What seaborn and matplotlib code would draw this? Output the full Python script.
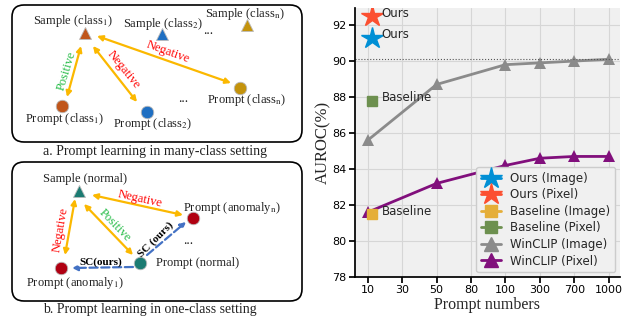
import matplotlib
matplotlib.use("Agg")
import matplotlib.pyplot as plt
import matplotlib.transforms as mtransforms
from matplotlib.lines import Line2D
from matplotlib.patches import FancyBboxPatch
import pandas as pd
import seaborn as sns

# --- data ---
prompt_ticks = [10, 30, 50, 80, 100, 300, 700, 1000]
winclip_prompts = [10, 50, 100, 300, 700, 1000]
winclip_image = [85.6, 88.7, 89.8, 89.9, 90.0, 90.1]
winclip_pixel = [81.6, 83.2, 84.2, 84.6, 84.7, 84.7]
ours_prompts = 10
ours_image = 91.3
ours_pixel = 92.5
baseline_prompts = 10
baseline_image = 81.5
baseline_pixel = 87.8

BLUE = "#008fd5"
RED = "#fc4f30"
YELLOW = "#e5ae38"
GREEN = "#6d904f"
GRAY = "#8b8b8b"
PURPLE = "#810f7c"
ORANGE = "#fbb800"
SERIF = "Liberation Serif"

sns.set_theme(style="ticks", rc={
    "axes.facecolor": "#f0f0f0",
    "axes.edgecolor": "black",
    "axes.grid": True,
    "grid.color": "#d6d6d6",
    "grid.linewidth": 0.8,
    "xtick.major.size": 4,
    "ytick.major.size": 4,
    "xtick.color": "black",
    "ytick.color": "black",
})
plt.rcParams["font.family"] = ["DejaVu Sans"]
plt.rcParams["mathtext.fontset"] = "stix"

fig = plt.figure(figsize=(6.32, 3.2), dpi=100)


# --- left: diagram, drawn in pixel coordinates ---
ad = fig.add_axes([0, 0, 320 / 632, 1])
ad.set_xlim(0, 320)
ad.set_ylim(320, 0)
ad.axis("off")


def label(x, y, s, size=9, color="#222222", rot=0, weight="normal"):
    ad.text(x, y, s, ha="center", va="center", fontsize=size, family=SERIF,
            color=color, rotation=rot, fontweight=weight, rotation_mode="anchor")


def arrow(p, q, style="<|-|>", color=ORANGE, ls="-"):
    ad.annotate("", xy=q, xytext=p,
                arrowprops=dict(arrowstyle=style, color=color, lw=1.6, ls=ls,
                                mutation_scale=8, shrinkA=0, shrinkB=0))


def node(x, y, marker, color):
    ad.plot([x], [y], marker=marker, ms=9, color=color, mec="#bbbbbb", mew=0.6)


for top, bottom in [(5, 142), (162, 301)]:
    ad.add_patch(FancyBboxPatch((12, top), 290, bottom - top,
                                boxstyle="round,pad=0,rounding_size=12",
                                fc="none", ec="black", lw=1.2))

# a. many-class
node(85, 33, "^", "#c0561b")
node(162, 34, "^", "#1f6fc2")
node(247, 25, "^", "#c4930c")
node(62, 106, "o", "#c0561b")
node(147, 112, "o", "#1f6fc2")
node(240, 88, "o", "#c4930c")
label(73, 21, "Sample (class$_1$)")
label(163, 24, "Sample (class$_2$)")
label(245, 14, r"Sample (class$_\mathrm{n}$)")
label(65, 119, "Prompt (class$_1$)")
label(153, 124, "Prompt (class$_2$)")
label(247, 100, r"Prompt (class$_\mathrm{n}$)")
label(208, 31, "...", size=10)
label(183, 99, "...", size=10)
arrow((67, 97), (81, 46))
arrow((93, 46), (137, 102))
arrow((97, 36), (231, 83))
label(67, 71, "Positive", color="#22bb44", rot=73)
label(124, 70, "Negative", color="red", rot=-51)
label(168, 52, "Negative", color="red", rot=-20)
label(155, 151, "a. Prompt learning in many-class setting", size=10)

# b. one-class
node(79, 191, "^", "#1b7b72")
node(193, 218, "o", "#b00012")
node(140, 263, "o", "#1b7b72")
node(61, 268, "o", "#b00012")
label(85, 179, "Sample (normal)")
label(232, 208, r"Prompt (anomaly$_\mathrm{n}$)")
label(198, 263, "Prompt (normal)")
label(75, 283, "Prompt (anomaly$_1$)")
label(188, 241, "...", size=10)
arrow((65, 255), (75, 199))
arrow((133, 255), (84, 204))
arrow((92, 195), (183, 215))
arrow((133, 267), (72, 268), style="-|>", color="#4472c4", ls="--")
arrow((147, 255), (186, 222), style="-|>", color="#4472c4", ls="--")
label(61, 230, "Negative", color="red", rot=80)
label(115, 225, "Positive", color="#22bb44", rot=-46)
label(140, 199, "Negative", color="red", rot=-12.5)
label(101, 262, "SC(ours)", size=8, color="black", weight="bold")
label(156, 240, "SC (ours)", size=8, color="black", rot=45, weight="bold")
label(150, 310, "b. Prompt learning in one-class setting", size=10)


# --- right: AUROC vs prompt numbers ---
ax = fig.add_axes([355 / 632, 43 / 320, 265 / 632, 269 / 320])

df = pd.DataFrame({
    "pos": [prompt_ticks.index(p) for p in winclip_prompts] * 2,
    "auroc": winclip_image + winclip_pixel,
    "series": ["WinCLIP (Image)"] * len(winclip_image) + ["WinCLIP (Pixel)"] * len(winclip_pixel),
})
sns.lineplot(data=df, x="pos", y="auroc", hue="series", palette=[GRAY, PURPLE],
             marker="^", markersize=8, markeredgewidth=0, linewidth=2,
             legend=False, ax=ax)

ax.axhline(max(winclip_image), color="#555555", ls=":", lw=0.8)

shift = mtransforms.offset_copy(ax.transData, fig=fig, x=4, y=0, units="dots")
tshift = mtransforms.offset_copy(ax.transData, fig=fig, x=14, y=3, units="dots")
ours_x = prompt_ticks.index(ours_prompts)
base_x = prompt_ticks.index(baseline_prompts)
ax.plot([ours_x], [ours_image], marker="*", ms=16, color=BLUE, ls="none", transform=shift)
ax.plot([ours_x], [ours_pixel], marker="*", ms=16, color=RED, ls="none", transform=shift)
ax.plot([base_x], [baseline_image], marker="s", ms=7, color=YELLOW, ls="none", transform=shift)
ax.plot([base_x], [baseline_pixel], marker="s", ms=7, color=GREEN, ls="none", transform=shift)
for xv, yv, s in [(ours_x, ours_image, "Ours"), (ours_x, ours_pixel, "Ours"),
                  (base_x, baseline_image, "Baseline"), (base_x, baseline_pixel, "Baseline")]:
    ax.text(xv, yv, s, transform=tshift, fontsize=8.5, va="center", ha="left")

ax.set_xticks(range(len(prompt_ticks)))
ax.set_xticklabels([str(p) for p in prompt_ticks])
ax.set_yticks([78, 80, 82, 84, 86, 88, 90, 92])
ax.set_xlim(-0.37, 7.33)
ax.set_ylim(78, 92.95)
ax.tick_params(labelsize=8, pad=2)
ax.set_xlabel("Prompt numbers", family=SERIF, fontsize=11.5, labelpad=1)
ax.set_ylabel("AUROC(%)", family=SERIF, fontsize=12, labelpad=1)
sns.despine(ax=ax)

handles = [
    Line2D([], [], color=BLUE, marker="*", ms=16, lw=2, label="Ours (Image)"),
    Line2D([], [], color=RED, marker="*", ms=16, lw=2, label="Ours (Pixel)"),
    Line2D([], [], color=YELLOW, marker="s", ms=9, lw=2, label="Baseline (Image)"),
    Line2D([], [], color=GREEN, marker="s", ms=9, lw=2, label="Baseline (Pixel)"),
    Line2D([], [], color=GRAY, marker="^", ms=10, lw=2, label="WinCLIP (Image)"),
    Line2D([], [], color=PURPLE, marker="^", ms=10, lw=2, label="WinCLIP (Pixel)"),
]
ax.legend(handles=handles, loc="lower right", fontsize=8.5, handlelength=1.7,
          labelspacing=0.3, facecolor="#f0f0f0", edgecolor="#cccccc",
          framealpha=1, borderpad=0.4, borderaxespad=0.4)

fig.savefig("out.png", dpi=100)
